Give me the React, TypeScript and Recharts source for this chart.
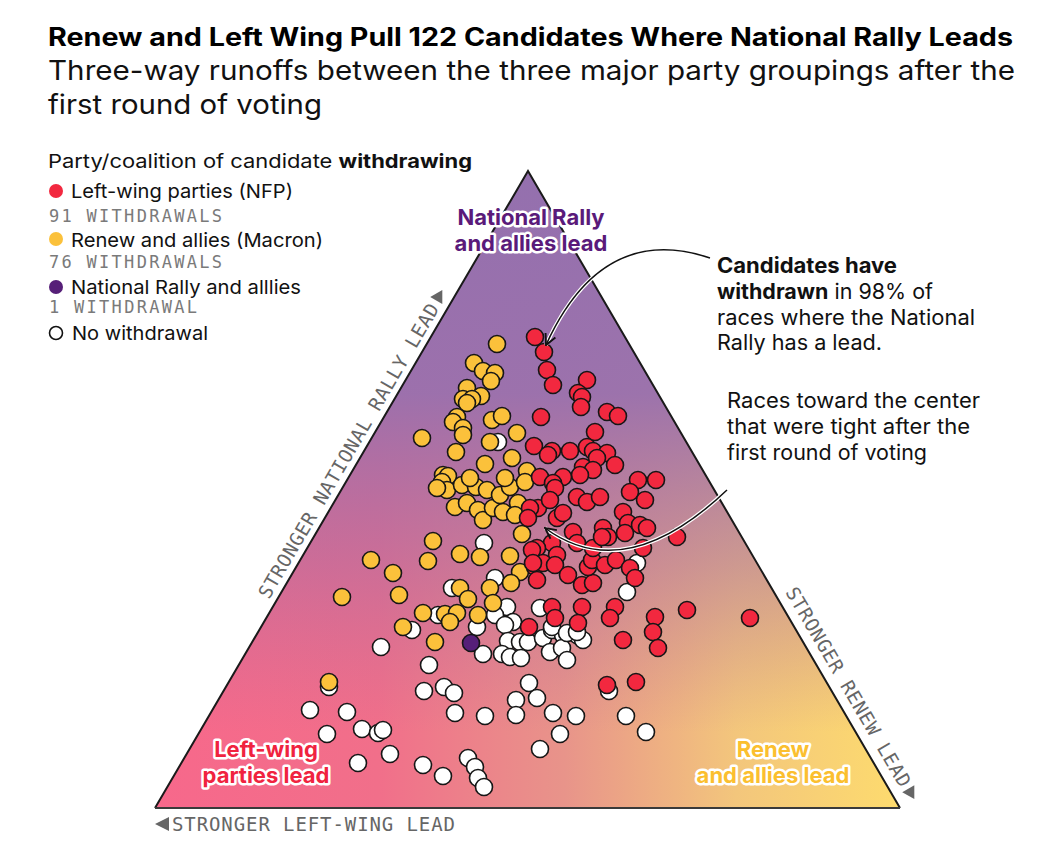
import React from 'react';
import { ComposedChart, Area, Scatter, XAxis, YAxis, ReferenceLine } from 'recharts';

const W = 1059;
const H = 855;

// ternary frame corners (left-wing lead, national rally lead, renew lead)
const triangle = [
  { x: 155, y: 808 },
  { x: 528, y: 171 },
  { x: 900, y: 808 },
];

// race positions, grouped by who withdrew
const leftWing: [number, number][] = [
  [535, 337], [544, 352], [547, 370], [553, 385], [587, 380], [578, 393], [582, 397], [581, 407],
  [541, 417], [607, 412], [618, 416], [595, 432], [534, 446], [552, 451], [548, 455], [570, 451],
  [587, 447], [593, 451], [607, 453], [597, 458], [615, 465], [583, 467], [593, 470], [580, 475],
  [563, 477], [540, 477], [553, 483], [638, 480], [656, 480],
  [555, 488], [577, 497], [587, 502], [600, 497], [630, 492], [645, 500], [538, 508], [550, 500],
  [557, 518], [563, 513], [573, 532], [577, 543], [552, 543], [557, 555], [537, 548], [535, 567],
  [543, 563], [555, 565], [537, 580], [568, 575], [582, 585], [593, 583], [588, 567], [592, 560],
  [605, 565], [616, 560], [593, 548], [603, 528], [608, 537], [602, 537], [623, 512], [628, 523],
  [625, 533], [640, 525], [647, 528], [643, 548], [677, 537], [630, 568], [635, 578], [615, 607],
  [610, 618], [552, 607], [555, 618], [582, 607], [578, 623], [687, 610], [655, 617], [653, 632],
  [750, 618], [623, 640], [658, 648], [607, 685], [636, 682], [529, 627], [530, 508], [528, 518],
  [532, 550], [533, 563],
];

const renew: [number, number][] = [
  [497, 344], [474, 363], [483, 371], [495, 373], [491, 381], [467, 388], [481, 396], [463, 399],
  [472, 399], [467, 403], [457, 417], [453, 422], [463, 428], [463, 435], [492, 420], [502, 416],
  [517, 433], [422, 438], [490, 442], [456, 452], [512, 458], [485, 464], [527, 471], [443, 475],
  [448, 476], [442, 482], [447, 490], [462, 485], [455, 507], [467, 503], [476, 487], [487, 490],
  [478, 510], [483, 520], [493, 508], [503, 512], [500, 495], [510, 487], [518, 503], [515, 515],
  [525, 482], [470, 478], [505, 478], [437, 488],
  [522, 534], [433, 541], [460, 554], [480, 557], [428, 561], [371, 560], [393, 573], [510, 556],
  [520, 572], [511, 583], [490, 588], [460, 588], [468, 599], [399, 595], [342, 597], [493, 603],
  [423, 613], [445, 614], [457, 613], [478, 615], [403, 627], [450, 622], [435, 642], [329, 682],
];

const rally: [number, number][] = [[471, 643]];

const noWithdrawal: [number, number][] = [
  [498, 442], [484, 543], [495, 578], [452, 588], [507, 607], [438, 615], [495, 615], [513, 622],
  [505, 625], [412, 630], [477, 627], [381, 647], [483, 654], [508, 641], [520, 642], [528, 642],
  [502, 654], [510, 657], [521, 658], [429, 665], [329, 687], [424, 691], [444, 687], [454, 693],
  [529, 683], [537, 698], [516, 700], [516, 715], [455, 713], [485, 716], [347, 712], [310, 710],
  [362, 729], [378, 733], [383, 730], [327, 734], [390, 754], [358, 763], [423, 765], [443, 776],
  [468, 758], [475, 767], [478, 778], [484, 787], [540, 749], [543, 638], [552, 630], [563, 635],
  [577, 635], [583, 640], [550, 652], [562, 648], [567, 660], [609, 691], [553, 713], [576, 716],
  [560, 734], [626, 716], [646, 732], [637, 563], [627, 592], [540, 608], [552, 627], [567, 633],
  [577, 632],
];

const RED = '#f2283f';
const YELLOW = '#fbc13b';
const PURPLE = '#561f78';

const toPts = (arr: [number, number][]) => arr.map(([x, y]) => ({ x, y }));

const dot = (fill: string) => (p: any) => (
  <circle cx={p.cx} cy={p.cy} r={8.5} fill={fill} stroke="#161616" strokeWidth={1.6} />
);

const sans = 'Inter, "Liberation Sans", Arial, sans-serif';
const mono = '"DejaVu Sans Mono", monospace';
const fit = 'spacingAndGlyphs';

const halo = { paintOrder: 'stroke' as const, stroke: '#fff', strokeWidth: 5, strokeLinejoin: 'round' as const };

export default function App() {
  return (
    <div style={{ position: 'absolute', left: 0, top: 0, width: W, height: H, background: '#fff' }}>
      <ComposedChart width={W} height={H} margin={{ top: 0, right: 0, bottom: 0, left: 0 }}>
        <defs>
          <linearGradient id="baseFill" x1="0" y1="0" x2="1" y2="0">
            <stop offset="0%" stopColor="#f7688b" />
            <stop offset="30%" stopColor="#f16f8a" />
            <stop offset="55%" stopColor="#e8948a" />
            <stop offset="78%" stopColor="#f3c67c" />
            <stop offset="100%" stopColor="#fddb6e" />
          </linearGradient>
          <linearGradient id="topFill" x1="0" y1="0" x2="0" y2="1">
            <stop offset="0%" stopColor="#9470ae" stopOpacity={1} />
            <stop offset="35%" stopColor="#9870ae" stopOpacity={0.95} />
            <stop offset="62%" stopColor="#a86ca4" stopOpacity={0.5} />
            <stop offset="88%" stopColor="#b86a9a" stopOpacity={0} />
          </linearGradient>
        </defs>
        <XAxis type="number" dataKey="x" domain={[0, W]} hide allowDataOverflow />
        <YAxis type="number" dataKey="y" domain={[0, H]} reversed hide allowDataOverflow />
        <Area
          data={triangle}
          dataKey="y"
          type="linear"
          baseValue={808}
          fill="url(#baseFill)"
          fillOpacity={1}
          stroke="none"
          dot={false}
          activeDot={false}
          isAnimationActive={false}
        />
        <Area
          data={triangle}
          dataKey="y"
          type="linear"
          baseValue={808}
          fill="url(#topFill)"
          fillOpacity={1}
          stroke="#1a1a1a"
          strokeWidth={2}
          dot={false}
          activeDot={false}
          isAnimationActive={false}
        />
        <ReferenceLine
          segment={[triangle[0], triangle[2]]}
          stroke="#3a3a3a"
          strokeWidth={2}
        />
        <Scatter data={toPts(noWithdrawal)} fill="#fff" shape={dot('#ffffff')} isAnimationActive={false} />
        <Scatter data={toPts(renew)} fill={YELLOW} shape={dot(YELLOW)} isAnimationActive={false} />
        <Scatter data={toPts(leftWing)} fill={RED} shape={dot(RED)} isAnimationActive={false} />
        <Scatter data={toPts(rally)} fill={PURPLE} shape={dot(PURPLE)} isAnimationActive={false} />
      </ComposedChart>

      <svg
        width={W}
        height={H}
        style={{ position: 'absolute', left: 0, top: 0, pointerEvents: 'none' }}
      >
        <defs>
          <marker id="head" viewBox="0 0 10 10" refX="9" refY="5" markerWidth="9" markerHeight="9" orient="auto">
            <path d="M1,1 L9,5 L1,9" fill="none" stroke="#111" strokeWidth={1.4} />
          </marker>
        </defs>

        {/* title block */}
        <text x={48} y={46} fontFamily={sans} fontSize={25} fontWeight={700} fill="#000" textLength={965} lengthAdjust={fit}>
          Renew and Left Wing Pull 122 Candidates Where National Rally Leads
        </text>
        <text x={48} y={80} fontFamily={sans} fontSize={27} fill="#111" textLength={967} lengthAdjust={fit}>
          Three-way runoffs between the three major party groupings after the
        </text>
        <text x={48} y={114} fontFamily={sans} fontSize={27} fill="#111" textLength={274} lengthAdjust={fit}>
          first round of voting
        </text>

        {/* legend */}
        <text x={48} y={168} fontFamily={sans} fontSize={19} fill="#111" textLength={424} lengthAdjust={fit}>
          Party/coalition of candidate <tspan fontWeight={700}>withdrawing</tspan>
        </text>
        <circle cx={56} cy={191} r={7} fill={RED} />
        <text x={71} y={198} fontFamily={sans} fontSize={19} fill="#111" textLength={222} lengthAdjust={fit}>Left-wing parties (NFP)</text>
        <text x={49} y={222} fontFamily={mono} fontSize={17} fill="#7a7a7a" textLength={173}>91 WITHDRAWALS</text>
        <circle cx={56} cy={239} r={7} fill={YELLOW} />
        <text x={71} y={247} fontFamily={sans} fontSize={19} fill="#111" textLength={252} lengthAdjust={fit}>Renew and allies (Macron)</text>
        <text x={49} y={268} fontFamily={mono} fontSize={17} fill="#7a7a7a" textLength={173}>76 WITHDRAWALS</text>
        <circle cx={56} cy={287} r={7} fill={PURPLE} />
        <text x={71} y={294} fontFamily={sans} fontSize={19} fill="#111" textLength={230} lengthAdjust={fit}>National Rally and alllies</text>
        <text x={49} y={313} fontFamily={mono} fontSize={17} fill="#7a7a7a" textLength={148}>1 WITHDRAWAL</text>
        <circle cx={56} cy={333} r={6.5} fill="#fff" stroke="#111" strokeWidth={1.6} />
        <text x={72} y={340} fontFamily={sans} fontSize={19} fill="#111" textLength={136} lengthAdjust={fit}>No withdrawal</text>

        {/* corner labels */}
        <g fontFamily={sans} fontSize={22} fontWeight={700} textAnchor="middle" style={halo}>
          <text x={531} y={225} fill="#5a1a7a">National Rally</text>
          <text x={531} y={251} fill="#5a1a7a">and allies lead</text>
          <text x={266} y={757} fill="#f0233f">Left-wing</text>
          <text x={266} y={783} fill="#f0233f">parties lead</text>
          <text x={773} y={757} fill="#fbbf2f">Renew</text>
          <text x={773} y={783} fill="#fbbf2f">and allies lead</text>
        </g>

        {/* axis labels */}
        <polygon points="155,824 169,817 169,831" fill="#666" />
        <text x={172} y={831} fontFamily={mono} fontSize={19} fill="#666" textLength={283}>
          STRONGER LEFT-WING LEAD
        </text>
        <g transform="translate(269,600) rotate(-59.65)">
          <text x={0} y={0} fontFamily={mono} fontSize={19} fill="#666" textLength={338}>
            STRONGER NATIONAL RALLY LEAD
          </text>
          <polygon points="343,-14 343,0 355,-7" fill="#666" />
        </g>
        <g transform="translate(785,592) rotate(59.65)">
          <text x={0} y={0} fontFamily={mono} fontSize={19} fill="#666" textLength={228}>
            STRONGER RENEW LEAD
          </text>
          <polygon points="232,-14 232,0 244,-7" fill="#666" />
        </g>

        {/* annotations */}
        <g fontFamily={sans} fontSize={21} fill="#111">
          <text x={717} y={273} fontWeight={700} textLength={180} lengthAdjust={fit}>Candidates have</text>
          <text x={717} y={299} textLength={216} lengthAdjust={fit}>
            <tspan fontWeight={700}>withdrawn</tspan> in 98% of
          </text>
          <text x={717} y={325} textLength={258} lengthAdjust={fit}>races where the National</text>
          <text x={717} y={350} textLength={165} lengthAdjust={fit}>Rally has a lead.</text>
          <text x={727} y={408} textLength={253} lengthAdjust={fit}>Races toward the center</text>
          <text x={727} y={434} textLength={243} lengthAdjust={fit}>that were tight after the</text>
          <text x={727} y={460} textLength={200} lengthAdjust={fit}>first round of voting</text>
        </g>
        <path d="M710,258 Q602,222 546,345" fill="none" stroke="#fff" strokeWidth={4} />
        <path d="M710,258 Q602,222 546,345" fill="none" stroke="#111" strokeWidth={1.5} markerEnd="url(#head)" />
        <path d="M727,490 Q625,587 545,528" fill="none" stroke="#fff" strokeWidth={4} />
        <path d="M727,490 Q625,587 545,528" fill="none" stroke="#111" strokeWidth={1.5} markerEnd="url(#head)" />
      </svg>
    </div>
  );
}
